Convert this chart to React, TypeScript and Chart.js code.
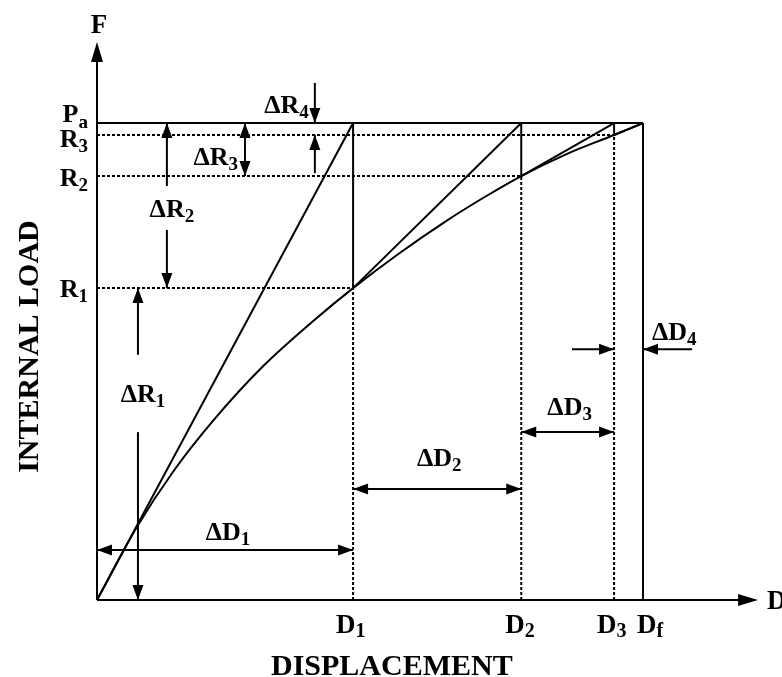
import { useEffect, useRef } from "react";
import { Chart, registerables } from "chart.js";

Chart.register(...registerables);

// Displacement stations (fraction of final displacement Df)
const displacementNames = ["D1", "D2", "D3", "Df"];
const displacements = [0.469, 0.777, 0.947, 1.0];

// Load levels (fraction of applied load Pa)
const appliedLoad = 1.0; // Pa
const residualNames = ["R1", "R2", "R3"];
const residualLoads = [0.654, 0.889, 0.975];

// Nonlinear internal load – displacement response
const curveD = [0, 0.073, 0.14, 0.212, 0.304, 0.396, 0.469, 0.55, 0.64, 0.71, 0.777, 0.86, 0.947, 1.0];
const curveF = [0, 0.153, 0.27, 0.375, 0.49, 0.585, 0.654, 0.724, 0.795, 0.845, 0.889, 0.935, 0.975, 1.0];

const X_MAX = 1.2106;
const Y_MAX = 1.17;

const FONT = '"Liberation Serif", "Times New Roman", serif';

type Ctx = CanvasRenderingContext2D;

function subText(ctx: Ctx, main: string, sub: string, x: number, y: number, align: "left" | "center" | "right", size = 26, subSize = 19, subDy = 5) {
  ctx.save();
  ctx.textAlign = "left";
  ctx.textBaseline = "alphabetic";
  ctx.font = `bold ${size}px ${FONT}`;
  const mw = ctx.measureText(main).width;
  ctx.font = `bold ${subSize}px ${FONT}`;
  const sw = ctx.measureText(sub).width;
  const total = mw + sw;
  let sx = x;
  if (align === "center") sx = x - total / 2;
  if (align === "right") sx = x - total;
  ctx.font = `bold ${size}px ${FONT}`;
  ctx.fillText(main, sx, y);
  ctx.font = `bold ${subSize}px ${FONT}`;
  ctx.fillText(sub, sx + mw, y + subDy);
  ctx.restore();
}

function head(ctx: Ctx, tx: number, ty: number, dx: number, dy: number, len = 15, hw = 5.5) {
  const l = Math.hypot(dx, dy);
  const ux = dx / l, uy = dy / l;
  const bx = tx - ux * len, by = ty - uy * len;
  ctx.beginPath();
  ctx.moveTo(tx, ty);
  ctx.lineTo(bx - uy * hw, by + ux * hw);
  ctx.lineTo(bx + uy * hw, by - ux * hw);
  ctx.closePath();
  ctx.fill();
}

function arrow(ctx: Ctx, x1: number, y1: number, x2: number, y2: number, endHead: boolean, startHead: boolean) {
  ctx.beginPath();
  ctx.moveTo(x1, y1);
  ctx.lineTo(x2, y2);
  ctx.stroke();
  if (endHead) head(ctx, x2, y2, x2 - x1, y2 - y1);
  if (startHead) head(ctx, x1, y1, x1 - x2, y1 - y2);
}

const diagramPlugin = {
  id: "diagram",
  beforeDraw(chart: any) {
    const ctx: Ctx = chart.ctx;
    ctx.save();
    ctx.fillStyle = "#fff";
    ctx.fillRect(0, 0, chart.width, chart.height);
    ctx.restore();
  },
  afterDatasetsDraw(chart: any) {
    const ctx: Ctx = chart.ctx;
    const xs = chart.scales.x;
    const ys = chart.scales.y;
    const px = (v: number) => xs.getPixelForValue(v);
    const py = (v: number) => ys.getPixelForValue(v);
    const [D1, D2, D3, Df] = displacements;
    const [R1, R2, R3] = residualLoads;
    const Pa = appliedLoad;

    ctx.save();
    ctx.strokeStyle = "#000";
    ctx.fillStyle = "#000";
    ctx.lineWidth = 2;
    ctx.lineCap = "butt";

    // Axes with arrowheads
    const x0 = px(0), y0 = py(0);
    ctx.beginPath();
    ctx.moveTo(x0, y0);
    ctx.lineTo(x0, py(Y_MAX) + 10);
    ctx.moveTo(x0, y0);
    ctx.lineTo(px(X_MAX) - 10, y0);
    ctx.stroke();
    head(ctx, x0, py(Y_MAX), 0, -1, 20, 6);
    head(ctx, px(X_MAX), y0, 1, 0, 20, 6);

    ctx.font = `bold 27px ${FONT}`;
    ctx.textAlign = "center";
    ctx.fillText("F", x0 + 2, 33);
    ctx.textAlign = "left";
    ctx.fillText("D", px(X_MAX) + 9, y0 + 9);

    // Axis titles
    ctx.font = `bold 30px ${FONT}`;
    ctx.textAlign = "center";
    ctx.fillText("DISPLACEMENT", px(0.54), 675);
    ctx.save();
    ctx.translate(38, (py(0) + py(Pa)) / 2 - 15);
    ctx.rotate(-Math.PI / 2);
    ctx.fillText("INTERNAL LOAD", 0, 0);
    ctx.restore();

    // Load level labels on the vertical axis
    const lx = x0 - 9;
    subText(ctx, "P", "a", lx, py(Pa) - 1, "right", 26, 19, 6);
    subText(ctx, "R", residualNames[2].slice(1), lx, py(R3) + 12, "right");
    subText(ctx, "R", residualNames[1].slice(1), lx, py(R2) + 10, "right");
    subText(ctx, "R", residualNames[0].slice(1), lx, py(R1) + 9, "right");

    // Displacement labels under the horizontal axis
    const dy = y0 + 33;
    const offs = [-17, -16, -17, -6];
    displacementNames.forEach((n, i) => {
      subText(ctx, n[0], n.slice(1), px(displacements[i]) + offs[i], dy, "left", 27, 20, 4);
    });

    // Load increments ΔR
    ctx.lineWidth = 2;
    const r4x = px(0.399);
    arrow(ctx, r4x, py(1.084), r4x, py(Pa), true, false);
    arrow(ctx, r4x, py(0.895), r4x, py(R3), true, false);
    subText(ctx, "ΔR", "4", r4x - 6, py(Pa) - 10, "right");

    const r3x = px(0.271);
    arrow(ctx, r3x, py(Pa), r3x, py(R2), true, true);
    subText(ctx, "ΔR", "3", r3x - 7, py(R2) - 11, "right");

    const r2x = px(0.128);
    arrow(ctx, r2x, py(0.868), r2x, py(Pa), true, false);
    arrow(ctx, r2x, py(0.776), r2x, py(R1), true, false);
    subText(ctx, "ΔR", "2", r2x + 5, py(0.822) + 9, "center");

    const r1x = px(0.075);
    arrow(ctx, r1x, py(0.514), r1x, py(R1), true, false);
    arrow(ctx, r1x, py(0.352), r1x, py(0), true, false);
    subText(ctx, "ΔR", "1", r1x + 5, py(0.433) + 9, "center");

    // Displacement increments ΔD
    const d1y = py(0.105);
    arrow(ctx, px(0), d1y, px(D1), d1y, true, true);
    subText(ctx, "ΔD", "1", (px(0) + px(D1)) / 2 + 3, d1y - 10, "center");

    const d2y = py(0.233);
    arrow(ctx, px(D1), d2y, px(D2), d2y, true, true);
    subText(ctx, "ΔD", "2", (px(D1) + px(D2)) / 2 + 2, d2y - 23, "center");

    const d3y = py(0.352);
    arrow(ctx, px(D2), d3y, px(D3), d3y, true, true);
    subText(ctx, "ΔD", "3", (px(D2) + px(D3)) / 2 + 2, d3y - 17, "center");

    const d4y = py(0.526);
    arrow(ctx, px(0.87), d4y, px(D3), d4y, true, false);
    arrow(ctx, px(1.09), d4y, px(Df), d4y, true, false);
    subText(ctx, "ΔD", "4", px(Df) + 9, d4y - 9, "left");

    ctx.restore();
  },
};

function seg(data: { x: number; y: number }[], dashed = false) {
  return {
    data,
    showLine: true,
    borderColor: "#000",
    borderWidth: 2,
    borderDash: dashed ? [3, 2] : [],
    pointRadius: 0,
    fill: false,
    tension: 0,
    clip: false as const,
  };
}

export default function App() {
  const ref = useRef<HTMLCanvasElement | null>(null);

  useEffect(() => {
    if (!ref.current) return;
    const [D1, D2, D3, Df] = displacements;
    const [R1, R2, R3] = residualLoads;
    const Pa = appliedLoad;

    const datasets: any[] = [
      // Dotted projection lines
      seg([{ x: 0, y: R1 }, { x: D1, y: R1 }], true),
      seg([{ x: 0, y: R2 }, { x: D2, y: R2 }], true),
      seg([{ x: 0, y: R3 }, { x: D3, y: R3 }], true),
      seg([{ x: D1, y: 0 }, { x: D1, y: R1 }], true),
      seg([{ x: D2, y: 0 }, { x: D2, y: R2 }], true),
      seg([{ x: D3, y: 0 }, { x: D3, y: R3 }], true),
      // Applied load level and final displacement
      seg([{ x: 0, y: Pa }, { x: Df, y: Pa }]),
      seg([{ x: Df, y: 0 }, { x: Df, y: Pa }]),
      // Unbalanced load drops
      seg([{ x: D1, y: R1 }, { x: D1, y: Pa }]),
      seg([{ x: D2, y: R2 }, { x: D2, y: Pa }]),
      seg([{ x: D3, y: R3 }, { x: D3, y: Pa }]),
      // Stiffness lines of each iteration
      seg([{ x: 0, y: 0 }, { x: D1, y: Pa }]),
      seg([{ x: D1, y: R1 }, { x: D2, y: Pa }]),
      seg([{ x: D2, y: R2 }, { x: D3, y: Pa }]),
      seg([{ x: D3, y: R3 }, { x: Df, y: Pa }]),
      // Response curve
      {
        ...seg(curveD.map((d, i) => ({ x: d, y: curveF[i] }))),
        cubicInterpolationMode: "monotone",
      },
    ];

    const chart = new Chart(ref.current, {
      type: "scatter",
      data: { datasets },
      options: {
        animation: false,
        responsive: false,
        devicePixelRatio: 1,
        layout: { padding: { left: 97, right: 24, top: 42, bottom: 77 } },
        plugins: { legend: { display: false }, tooltip: { enabled: false } },
        events: [],
        scales: {
          x: { type: "linear", min: 0, max: X_MAX, display: false },
          y: { type: "linear", min: 0, max: Y_MAX, display: false },
        },
      },
      plugins: [diagramPlugin],
    });
    return () => chart.destroy();
  }, []);

  return (
    <div style={{ position: "fixed", left: 0, top: 0, width: 782, height: 677, background: "#fff" }}>
      <canvas ref={ref} width={782} height={677} />
    </div>
  );
}
